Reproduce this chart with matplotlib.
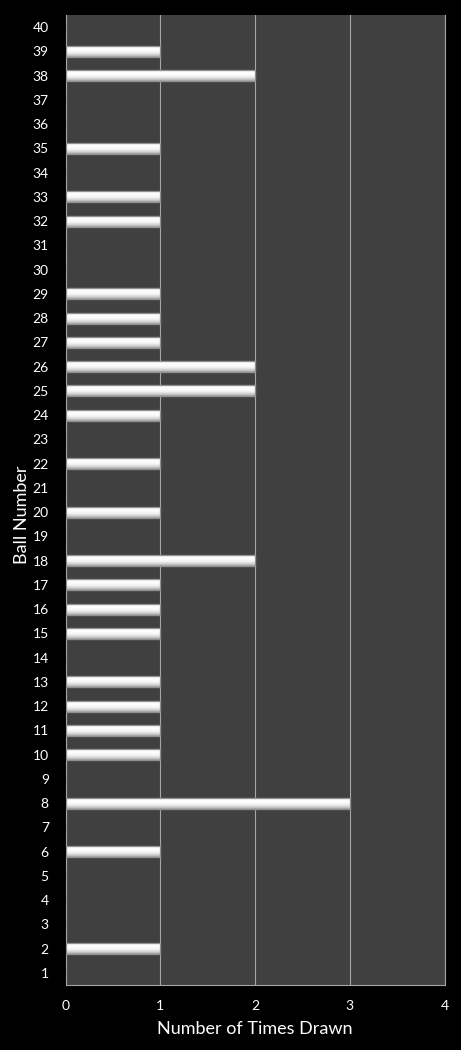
import matplotlib
matplotlib.use("Agg")
import matplotlib.pyplot as plt
import numpy as np
from matplotlib.colors import LinearSegmentedColormap

balls = list(range(1, 41))
counts = [0, 1, 0, 0, 0, 1, 0, 3, 0, 1,
          1, 1, 1, 0, 1, 1, 1, 2, 0, 1,
          0, 1, 0, 1, 2, 2, 1, 1, 1, 0,
          0, 1, 1, 0, 1, 0, 0, 2, 1, 0]
xticks = [0, 1, 2, 3, 4]

plt.rcParams['font.family'] = ['Lato', 'DejaVu Sans']

fig = plt.figure(figsize=(4.61, 10.5), dpi=100, facecolor='black')
W, H = 461, 1050
left, right, top, bottom = 65.5, 444.5, 15, 985
ax = fig.add_axes([left / W, 1 - bottom / H, (right - left) / W, (bottom - top) / H])
ax.set_facecolor('#404040')

bars = ax.barh(balls, counts, height=0.45, color='#f2f2f2', edgecolor='#9a9a9a',
               linewidth=0.8, zorder=3)
grad = np.linspace(0, 1, 64).reshape(-1, 1)
cmap = LinearSegmentedColormap.from_list('g', [(0, '#a0a0a0'), (0.2, '#d2d2d2'),
                                               (0.45, '#f6f6f6'), (0.75, '#ffffff'),
                                               (1.0, '#f0f0f0')])
for b, c in zip(bars, counts):
    if c <= 0:
        continue
    x0, y0 = b.get_x(), b.get_y()
    w, h = b.get_width(), b.get_height()
    im = ax.imshow(grad, extent=[x0, x0 + w, y0, y0 + h], origin='lower', cmap=cmap,
                   aspect='auto', zorder=3.5, interpolation='bilinear')
    im.set_clip_path(b)
    ax.barh(b.get_y() + h / 2, w, height=h, fill=False, edgecolor='#909090',
            linewidth=0.9, zorder=4)

ax.set_xlim(0, 4)
ax.set_ylim(0.5, 40.5)
ax.set_xticks(xticks)
ax.set_xticklabels([str(t) for t in xticks])
ax.set_yticks(balls)
ax.set_yticklabels([str(b) for b in balls])
ax.xaxis.grid(True, color='#a6a6a6', linewidth=0.8, zorder=1)
ax.set_axisbelow(True)
ax.spines['top'].set_visible(False)
for s in ['left', 'right', 'bottom']:
    ax.spines[s].set_color('#a6a6a6')
    ax.spines[s].set_linewidth(0.8)
ax.tick_params(axis='both', length=0, colors='white', labelsize=10)
ax.tick_params(axis='y', pad=12)
ax.tick_params(axis='x', pad=11)
ax.set_xlabel('Number of Times Drawn', color='white', fontsize=13, labelpad=6)
ax.set_ylabel('Ball Number', color='white', fontsize=13)
ax.yaxis.set_label_coords((30 - left) / (right - left), (bottom - 515) / (bottom - top))

fig.savefig('out.png', dpi=100, facecolor='black')
